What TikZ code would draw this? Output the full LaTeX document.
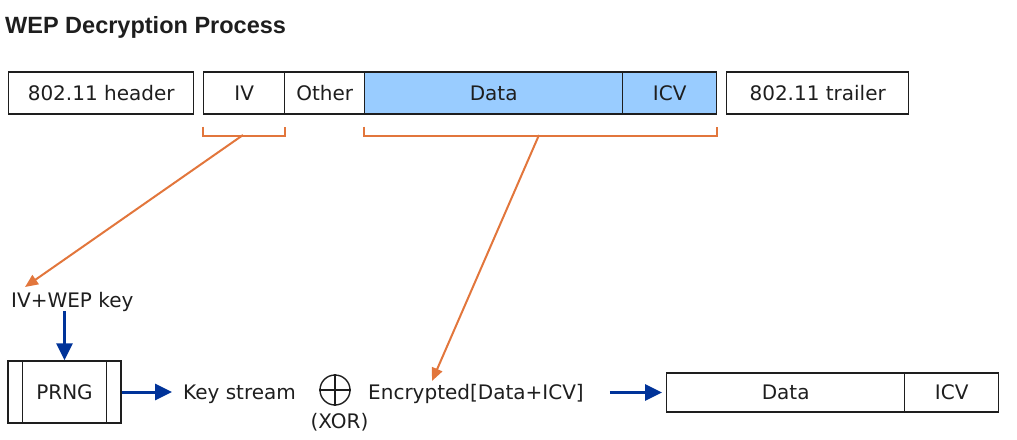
\documentclass[tikz,border=0pt]{standalone}
\usepackage{fontspec}
\setmainfont{DejaVu Sans}
\newfontfamily\titlefont{Liberation Sans}
\usetikzlibrary{arrows.meta}
\definecolor{orng}{RGB}{226,118,60}
\definecolor{dblue}{RGB}{0,51,153}
\definecolor{lblue}{RGB}{153,204,255}
\definecolor{ink}{RGB}{30,30,30}
\begin{document}
\begin{tikzpicture}[x=1pt,y=-1pt,
  every node/.style={inner sep=0pt, font=\fontsize{20}{24}\selectfont, text=ink},
  field/.style={draw=ink, line width=1.4pt, minimum height=42pt, text height=14.6pt, text depth=0pt, anchor=west},
  field2/.style={draw=ink, line width=1.4pt, minimum height=39pt, text height=14.6pt, text depth=0pt, anchor=west},
  lbl/.style={anchor=base west},
  barrow/.style={draw=dblue, line width=3pt, -{Triangle[length=17pt,width=16pt]}},
  oarrow/.style={draw=orng, line width=2pt, -{Triangle[length=13pt,width=11pt]}},
  brace/.style={draw=orng, line width=2pt},
  thin/.style={draw=ink, line width=1.4pt}
]
\useasboundingbox (0,0) rectangle (1017,439);
% title
\node[anchor=base west, font=\titlefont\bfseries\fontsize{23.5}{28}\selectfont, text=ink] (title) at (5,33) {WEP Decryption Process};
% frame fields
\node[field, minimum width=185pt] (hdr) at (8,93) {802.11 header};
\node[field, minimum width=81pt] (iv) at (203,93) {IV};
\node[field, minimum width=80pt] (oth) at (284,93) {Other};
\node[field, fill=lblue, minimum width=258pt] (data) at (364,93) {Data};
\node[field, fill=lblue, minimum width=94pt] (icv) at (622,93) {ICV};
\node[field, minimum width=182pt] (trl) at (726,93) {802.11 trailer};
% brackets
\draw[brace] ([yshift=-12pt]iv.south west) -- ([yshift=-21pt]iv.south west) -- ([yshift=-21pt]iv.south east) -- ([yshift=-12pt]iv.south east);
\draw[brace] ([yshift=-12pt]data.south west) -- ([yshift=-21pt]data.south west) -- ([yshift=-21pt]icv.south east) -- ([yshift=-12pt]icv.south east);
\coordinate (b1) at (243,135);
\coordinate (b2) at (539,135);
% bottom row
\node[lbl] (key) at (11,307) {IV+WEP key};
\node[draw=ink, line width=1.4pt, minimum width=113pt, minimum height=62pt, text height=14.6pt, text depth=0pt] (prng) at (64.5,392) {PRNG};
\draw[thin] ([xshift=15pt]prng.north west) -- ([xshift=15pt]prng.south west);
\draw[thin] ([xshift=-15pt]prng.north east) -- ([xshift=-15pt]prng.south east);
\node[lbl] (ks) at (183,399) {Key stream};
\node[circle, draw=ink, line width=1.4pt, minimum size=30pt] (xor) at (335,390) {};
\draw[thin] (xor.north) -- (xor.south) (xor.west) -- (xor.east);
\node[anchor=base] (xl) at (339.5,428) {(XOR)};
\node[lbl] (enc) at (368,399) {Encrypted[Data+ICV]};
\coordinate (ivtip) at (25,287);
\coordinate (enctip) at (432,381);
\node[field2, minimum width=238pt] (d2) at (666,392.5) {Data};
\node[field2, minimum width=94pt] (i2) at (904,392.5) {ICV};
% connectors
\draw[oarrow] (b1) -- (ivtip);
\draw[oarrow] (b2) -- (enctip);
\draw[barrow] (key.south -| prng.north) -- (prng.north);
\draw[barrow, shorten >=11pt] (prng.east) -- (prng.east -| ks.west);
\draw[barrow, shorten <=26pt, shorten >=4pt] (enc.east |- d2.west) -- (d2.west);
\end{tikzpicture}
\end{document}
